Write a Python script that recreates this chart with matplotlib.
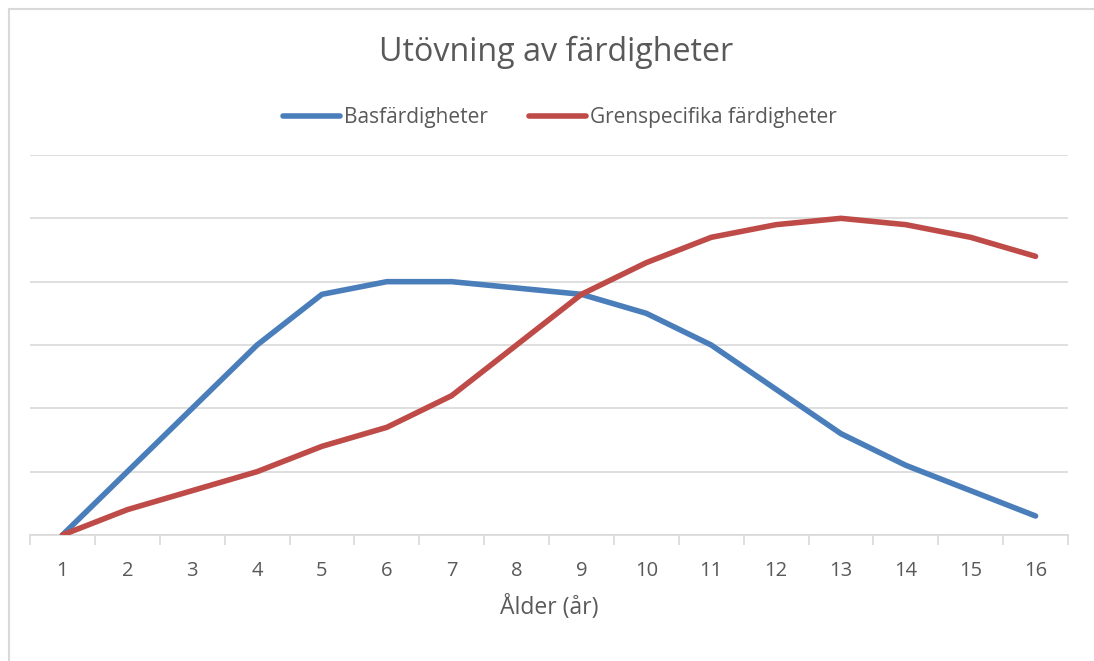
import matplotlib
matplotlib.use("Agg")
import matplotlib.pyplot as plt
from matplotlib.patches import Rectangle

plt.rcParams['font.family'] = ['Open Sans', 'DejaVu Sans']

# data (units of gridlines * 10)
ages = list(range(1, 17))
basfardigheter = [0, 10, 20, 30, 38, 40, 40, 39, 38, 35, 30, 23, 16, 11, 7, 3]
grenspecifika = [0, 4, 7, 10, 14, 17, 22, 30, 38, 43, 47, 49, 50, 49, 47, 44]
series_names = ['Basfärdigheter', 'Grenspecifika färdigheter']

blue = '#4a7ebb'
red = '#be4b48'
textcol = '#595959'
gridcol = '#d9d9d9'

fig = plt.figure(figsize=(10.94, 6.61), dpi=100)
ax = fig.add_axes([30 / 1094, 1 - 535 / 661, 1038 / 1094, 380 / 661])

ax.plot(ages, basfardigheter, color=blue, lw=4, solid_capstyle='round',
        solid_joinstyle='round', label=series_names[0], zorder=3)
ax.plot(ages, grenspecifika, color=red, lw=4, solid_capstyle='round',
        solid_joinstyle='round', label=series_names[1], zorder=3)

ax.set_xlim(0.5, 16.5)
ax.set_ylim(0, 60)
ax.set_yticks(range(0, 61, 10))
ax.yaxis.grid(True, color=gridcol, lw=1.2)
ax.tick_params(axis='y', length=0, labelleft=False)

ax.set_xticks(ages)
ax.set_xticklabels([str(a) for a in ages], fontsize=14.5, color=textcol)
ax.set_xticks([a + 0.5 for a in [0] + ages], minor=True)
ax.tick_params(axis='x', which='major', length=0, pad=19)
ax.tick_params(axis='x', which='minor', length=7, width=1.2, color=gridcol)

for s in ['top', 'right', 'left']:
    ax.spines[s].set_visible(False)
ax.spines['bottom'].set_color(gridcol)
ax.spines['bottom'].set_linewidth(1.2)
ax.set_axisbelow(True)

ax.set_xlabel('Ålder (år)', fontsize=16.5, color=textcol, va='center')
ax.xaxis.set_label_coords(0.5, -72 / 380)

fig.text(556 / 1094, 1 - 52 / 661, 'Utövning av färdigheter', fontsize=23.2,
         color=textcol, ha='center', va='center')

leg = fig.legend(loc='center', bbox_to_anchor=(560 / 1094, 1 - 118 / 661), ncol=2,
                 frameon=False, fontsize=15, handlelength=2.7, handletextpad=0.2,
                 columnspacing=2.0, labelcolor=textcol)

# light border round the chart area
fig.patches.append(Rectangle((9 / 1094, -0.05), 1.2, 1 - 9 / 661 + 0.05,
                             transform=fig.transFigure, fill=False,
                             edgecolor=gridcol, lw=1.5))

fig.savefig('out.png', dpi=100)
